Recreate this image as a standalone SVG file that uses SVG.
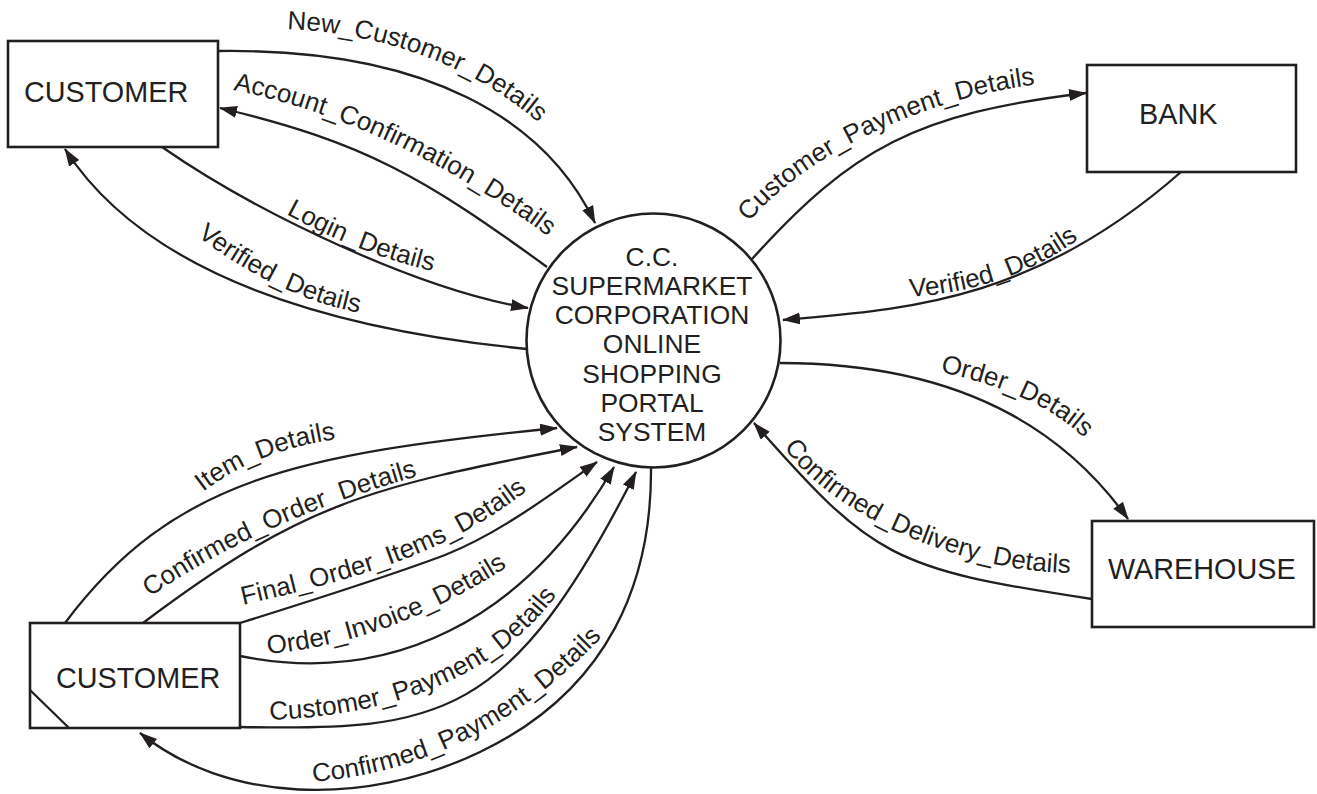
<svg xmlns="http://www.w3.org/2000/svg" xmlns:xlink="http://www.w3.org/1999/xlink" width="1317" height="794" viewBox="0 0 1317 794">
<style>
.box{fill:#fff;stroke:#231f20;stroke-width:2.6}
.proc{fill:#fff;stroke:#231f20;stroke-width:2.6}
.edge{fill:none;stroke:#231f20;stroke-width:2.3;marker-end:url(#arrow)}
.plain{fill:none;stroke:#231f20;stroke-width:2.3}
.nlabel{font-family:"Liberation Sans",Arial,sans-serif;font-size:28.8px;fill:#231f20}
.plabel{font-family:"Liberation Sans",Arial,sans-serif;font-size:26.4px;fill:#231f20;text-anchor:middle}
.elabel{font-family:"Liberation Sans",Arial,sans-serif;font-size:26px;fill:#231f20}
</style>
<defs>
<marker id="arrow" markerUnits="userSpaceOnUse" markerWidth="20" markerHeight="14" refX="17" refY="6" orient="auto">
<path d="M0,0 L18,6 L0,12 Z" fill="#231f20"/>
</marker>
<path id="t1" d="M287,29 C402,34 488,78 540,124 l24,22"/>
<path id="t2" d="M233,90 C353,114 465,174 553,240 l24,18"/>
<path id="t3" d="M286,214 Q365,257 445,274 l30,6"/>
<path id="t4" d="M197,236 Q275,295 355,312 l30,6"/>
<path id="t5" d="M749,222 C806.6,152.7 932,95 1042,84 l30,-3"/>
<path id="t6" d="M910,297 Q1010,290 1080,238 l24,-18"/>
<path id="t7" d="M940,372 Q1035,392 1082,436 l20,20"/>
<path id="t8" d="M784,447 C828,513.4 964,573 1074,573 l30,0"/>
<path id="t9" d="M203,492 Q260,448 345,438 l30,-3"/>
<path id="t10" d="M150,597 Q260,520 425,474 l30,-8"/>
<path id="t11" d="M243,605 C350,580 450,555 535,484 l24,-20"/>
<path id="t12" d="M268,654 C330,648 410,630 510,565 l25,-18"/>
<path id="t13" d="M270,720 C370,716 490,690 560,590 l15,-25"/>
<path id="t14" d="M313,782 C420,773 515,727 598,641 l18,-22"/>
</defs>
<rect width="1317" height="794" fill="#fff"/>

<g id="connectors">
<path class="edge" d="M218,51 C428,48 546,120 595,223"/>
<path class="edge" d="M547,267 C425.5,178.5 365.5,142.5 220,108"/>
<path class="edge" d="M162,147 C260,215 420,290 528,308"/>
<path class="edge" d="M527,349 C327,329 146,275 65,149"/>
<path class="edge" d="M752,259 C852.5,148 916,113.4 1086,93"/>
<path class="edge" d="M1181,172 C1031,304 903,309 783,320"/>
<path class="edge" d="M780,363 C980,363 1075.8,446 1128,519"/>
<path class="edge" d="M1092,599 C892,569 872.8,558 754,423"/>
<path class="edge" d="M65,623 C173,479 297,454 557,428"/>
<path class="edge" d="M143,623 C303,503 365.8,487.6 577,447"/>
<path class="edge" d="M240,623 C320,598 400,572 445,555 C500,533 550,495 597,462"/>
<path class="edge" d="M240,656 C390,686 524,621.8 614,467"/>
<path class="edge" d="M240,727 C440,731 510,721 636,472"/>
<path class="edge" d="M651,467 C652,580 610,690 480,752 C363,808 225.8,802.3 140,733"/>
</g>

<g id="connector-labels">
<text class="elabel"><textPath xlink:href="#t1" href="#t1">New_Customer_Details</textPath></text>
<text class="elabel"><textPath xlink:href="#t2" href="#t2">Account_Confirmation_Details</textPath></text>
<text class="elabel"><textPath xlink:href="#t3" href="#t3">Login_Details</textPath></text>
<text class="elabel"><textPath xlink:href="#t4" href="#t4">Verified_Details</textPath></text>
<text class="elabel"><textPath xlink:href="#t5" href="#t5">Customer_Payment_Details</textPath></text>
<text class="elabel"><textPath xlink:href="#t6" href="#t6">Verified_Details</textPath></text>
<text class="elabel"><textPath xlink:href="#t7" href="#t7">Order_Details</textPath></text>
<text class="elabel"><textPath xlink:href="#t8" href="#t8">Confirmed_Delivery_Details</textPath></text>
<text class="elabel"><textPath xlink:href="#t9" href="#t9">Item_Details</textPath></text>
<text class="elabel"><textPath xlink:href="#t10" href="#t10">Confirmed_Order_Details</textPath></text>
<text class="elabel"><textPath xlink:href="#t11" href="#t11">Final_Order_Items_Details</textPath></text>
<text class="elabel"><textPath xlink:href="#t12" href="#t12">Order_Invoice_Details</textPath></text>
<text class="elabel"><textPath xlink:href="#t13" href="#t13">Customer_Payment_Details</textPath></text>
<text class="elabel"><textPath xlink:href="#t14" href="#t14">Confirmed_Payment_Details</textPath></text>
</g>

<g id="customer-top">
<rect class="box" x="8" y="41" width="210" height="106"/>
<text class="nlabel" x="24" y="102">CUSTOMER</text>
</g>

<g id="bank">
<rect class="box" x="1087" y="65" width="209" height="107"/>
<text class="nlabel" x="1139" y="124">BANK</text>
</g>

<g id="warehouse">
<rect class="box" x="1092" y="521" width="222" height="106"/>
<text class="nlabel" x="1108" y="579">WAREHOUSE</text>
</g>

<g id="customer-bottom">
<rect class="box" x="30" y="623" width="210" height="105"/>
<path class="plain" d="M30,690 L69,728"/>
<text class="nlabel" x="56" y="688">CUSTOMER</text>
</g>

<g id="process">
<circle class="proc" cx="653.5" cy="340.5" r="127"/>
<text class="plabel" x="652" y="266">C.C.</text>
<text class="plabel" x="652" y="295">SUPERMARKET</text>
<text class="plabel" x="652" y="324">CORPORATION</text>
<text class="plabel" x="652" y="353">ONLINE</text>
<text class="plabel" x="652" y="382.5">SHOPPING</text>
<text class="plabel" x="652" y="411.5">PORTAL</text>
<text class="plabel" x="652" y="440.5">SYSTEM</text>
</g>
</svg>
